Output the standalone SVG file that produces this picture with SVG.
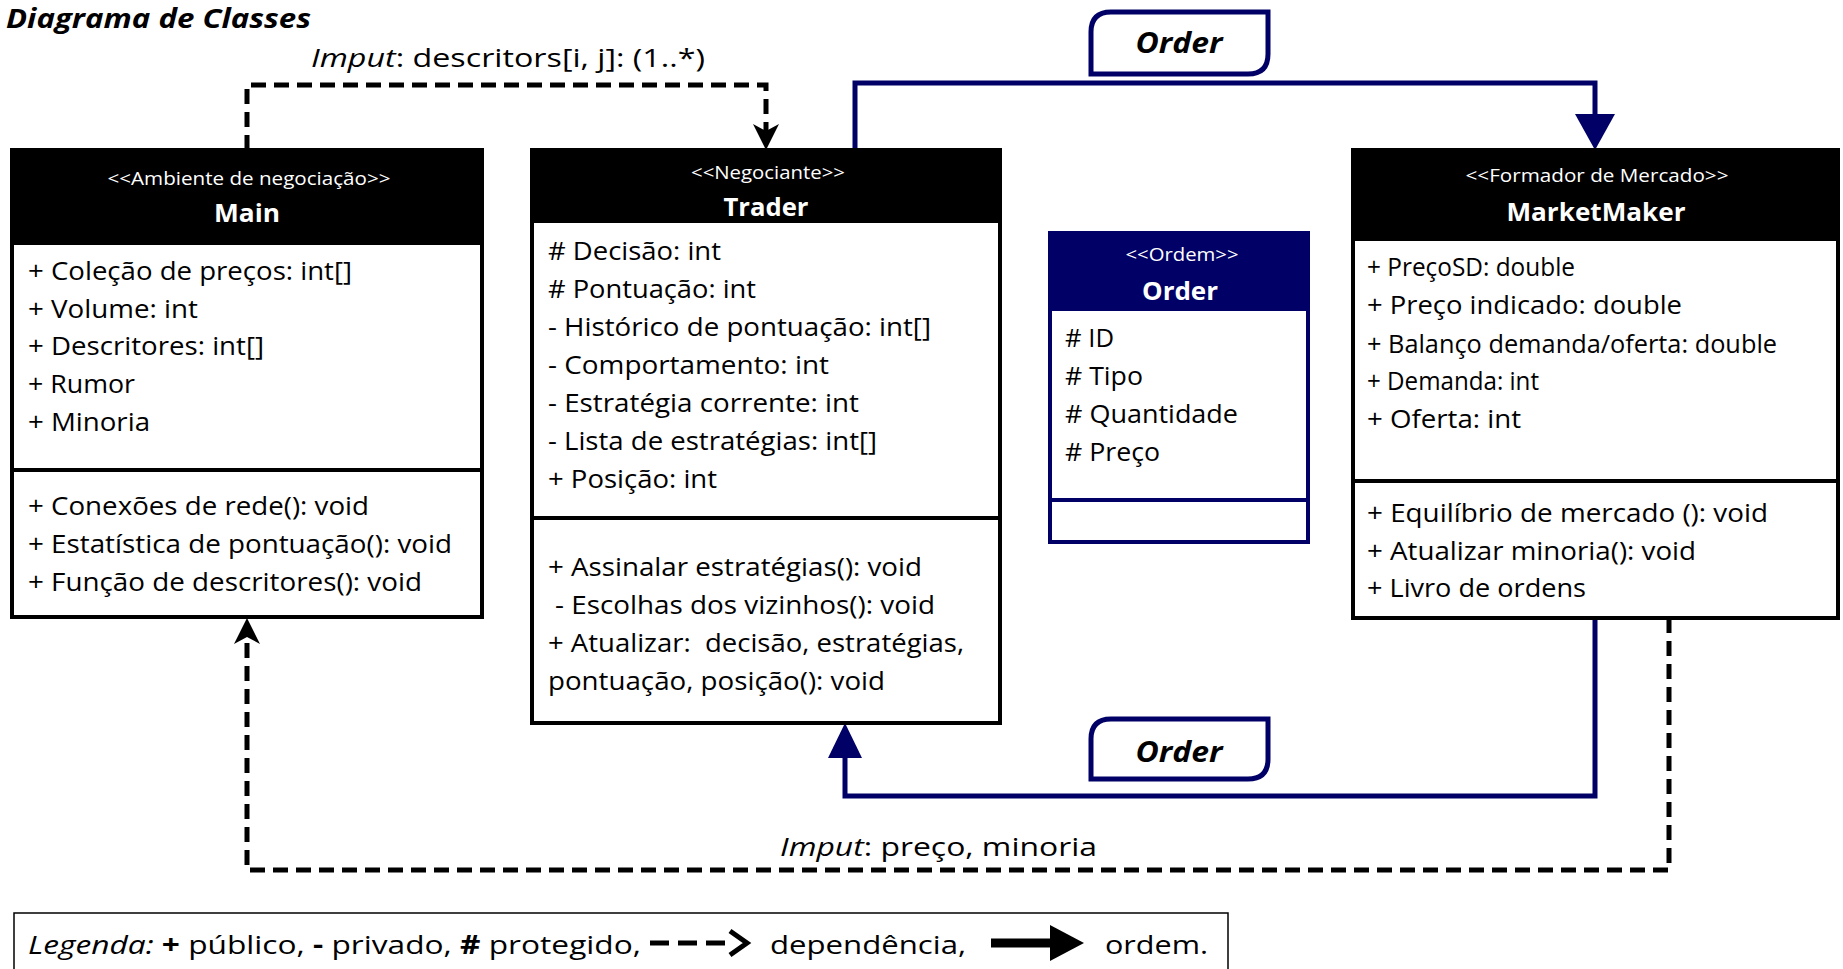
<svg xmlns="http://www.w3.org/2000/svg" width="1843" height="969" viewBox="0 0 1843 969">
<style>
text{font-family:"Open Sans","Liberation Sans",sans-serif;fill:#000}
.t{font-size:25px}
.st{font-size:18px;fill:#fff;text-anchor:middle}
.nm{font-size:25px;font-weight:bold;fill:#fff;text-anchor:middle}
.box{fill:#fff;stroke:#000;stroke-width:4}
.nbox{fill:#fff;stroke:#000066;stroke-width:4}
.dash{fill:none;stroke:#000;stroke-width:5;stroke-dasharray:15 8}
.navy{fill:none;stroke:#000066;stroke-width:5}
.lbl{font-size:29px;font-weight:bold;font-style:italic;text-anchor:middle}
.ah{fill:#000}
</style>
<text x="6" y="28" style="font-size:26px;font-weight:bold;font-style:italic" textLength="305" lengthAdjust="spacingAndGlyphs">Diagrama de Classes</text>

<g id="connectors">
<path class="dash" d="M247,150 V85 H766 V140"/>
<path class="ah" d="M766,150 L753,124 L766,131 L779,124 Z"/>
<text x="311" y="67" class="t" style="font-size:26px" textLength="394" lengthAdjust="spacingAndGlyphs"><tspan font-style="italic">Imput</tspan>: descritors[i, j]: (1..*)</text>
<path class="dash" d="M1669,618 V870 H247 V628"/>
<path class="ah" d="M247,618 L260,644 L247,637 L234,644 Z"/>
<text x="780" y="856" class="t" style="font-size:26px" textLength="317" lengthAdjust="spacingAndGlyphs"><tspan font-style="italic">Imput</tspan>: preço, minoria</text>
<path class="navy" d="M855,150 V83 H1595 V118"/>
<polygon points="1575,114 1615,114 1595,150" fill="#000066"/>
<path class="navy" d="M1595,618 V796 H845 V755"/>
<polygon points="828,758 862,758 845,723" fill="#000066"/>
<g id="order-label-top">
<path d="M1111,12 H1268 V54 Q1268,74 1248,74 H1091 V32 Q1091,12 1111,12 Z" fill="#fff" stroke="#000066" stroke-width="5"/>
<text x="1179" y="53" class="lbl" textLength="87" lengthAdjust="spacingAndGlyphs">Order</text>
</g>
<g id="order-label-bottom">
<path d="M1111,719 H1268 V759 Q1268,779 1248,779 H1091 V739 Q1091,719 1111,719 Z" fill="#fff" stroke="#000066" stroke-width="5"/>
<text x="1179" y="762" class="lbl" textLength="87" lengthAdjust="spacingAndGlyphs">Order</text>
</g>
</g>

<g id="main">
<rect class="box" x="12" y="150" width="470" height="467"/>
<rect x="12" y="150" width="470" height="95" fill="#000"/>
<line x1="12" y1="470" x2="482" y2="470" stroke="#000" stroke-width="4"/>
<text x="249" y="185" class="st" textLength="283" lengthAdjust="spacingAndGlyphs">&lt;&lt;Ambiente de negociação&gt;&gt;</text>
<text x="247" y="222" class="nm" textLength="66" lengthAdjust="spacingAndGlyphs">Main</text>
<text class="t" x="28" y="280" textLength="324" lengthAdjust="spacingAndGlyphs">+ Coleção de preços: int[]</text>
<text class="t" x="28" y="318" textLength="170" lengthAdjust="spacingAndGlyphs">+ Volume: int</text>
<text class="t" x="28" y="355" textLength="236" lengthAdjust="spacingAndGlyphs">+ Descritores: int[]</text>
<text class="t" x="28" y="393" textLength="107" lengthAdjust="spacingAndGlyphs">+ Rumor</text>
<text class="t" x="28" y="431" textLength="122" lengthAdjust="spacingAndGlyphs">+ Minoria</text>
<text class="t" x="28" y="515" textLength="341" lengthAdjust="spacingAndGlyphs">+ Conexões de rede(): void</text>
<text class="t" x="28" y="553" textLength="424" lengthAdjust="spacingAndGlyphs">+ Estatística de pontuação(): void</text>
<text class="t" x="28" y="591" textLength="394" lengthAdjust="spacingAndGlyphs">+ Função de descritores(): void</text>
</g>

<g id="trader">
<rect class="box" x="532" y="150" width="468" height="573"/>
<rect x="532" y="150" width="468" height="73" fill="#000"/>
<line x1="532" y1="518" x2="1000" y2="518" stroke="#000" stroke-width="4"/>
<text x="768" y="179" class="st" textLength="154" lengthAdjust="spacingAndGlyphs">&lt;&lt;Negociante&gt;&gt;</text>
<text x="766" y="216" class="nm" textLength="85" lengthAdjust="spacingAndGlyphs">Trader</text>
<text class="t" x="548" y="260" textLength="173" lengthAdjust="spacingAndGlyphs"># Decisão: int</text>
<text class="t" x="548" y="298" textLength="208" lengthAdjust="spacingAndGlyphs"># Pontuação: int</text>
<text class="t" x="548" y="336" textLength="383" lengthAdjust="spacingAndGlyphs">- Histórico de pontuação: int[]</text>
<text class="t" x="548" y="374" textLength="281" lengthAdjust="spacingAndGlyphs">- Comportamento: int</text>
<text class="t" x="548" y="412" textLength="311" lengthAdjust="spacingAndGlyphs">- Estratégia corrente: int</text>
<text class="t" x="548" y="450" textLength="329" lengthAdjust="spacingAndGlyphs">- Lista de estratégias: int[]</text>
<text class="t" x="548" y="488" textLength="169" lengthAdjust="spacingAndGlyphs">+ Posição: int</text>
<text class="t" x="548" y="576" textLength="374" lengthAdjust="spacingAndGlyphs">+ Assinalar estratégias(): void</text>
<text class="t" x="555" y="614" textLength="380" lengthAdjust="spacingAndGlyphs">- Escolhas dos vizinhos(): void</text>
<text class="t" x="548" y="652" textLength="416" lengthAdjust="spacingAndGlyphs" xml:space="preserve">+ Atualizar:  decisão, estratégias,</text>
<text class="t" x="548" y="690" textLength="337" lengthAdjust="spacingAndGlyphs">pontuação, posição(): void</text>
</g>

<g id="order">
<rect class="nbox" x="1050" y="233" width="258" height="309"/>
<rect x="1050" y="233" width="258" height="78" fill="#000066"/>
<line x1="1050" y1="500" x2="1308" y2="500" stroke="#000066" stroke-width="4"/>
<text x="1182" y="261" class="st" textLength="113" lengthAdjust="spacingAndGlyphs">&lt;&lt;Ordem&gt;&gt;</text>
<text x="1180" y="300" class="nm" textLength="76" lengthAdjust="spacingAndGlyphs">Order</text>
<text class="t" x="1065" y="347" textLength="49" lengthAdjust="spacingAndGlyphs"># ID</text>
<text class="t" x="1065" y="385" textLength="78" lengthAdjust="spacingAndGlyphs"># Tipo</text>
<text class="t" x="1065" y="423" textLength="173" lengthAdjust="spacingAndGlyphs"># Quantidade</text>
<text class="t" x="1065" y="461" textLength="95" lengthAdjust="spacingAndGlyphs"># Preço</text>
</g>

<g id="marketmaker">
<rect class="box" x="1353" y="150" width="485" height="468"/>
<rect x="1353" y="150" width="485" height="91" fill="#000"/>
<line x1="1353" y1="481" x2="1838" y2="481" stroke="#000" stroke-width="4"/>
<text x="1597" y="182" class="st" textLength="263" lengthAdjust="spacingAndGlyphs">&lt;&lt;Formador de Mercado&gt;&gt;</text>
<text x="1596" y="221" class="nm" textLength="179" lengthAdjust="spacingAndGlyphs">MarketMaker</text>
<text class="t" x="1367" y="276" textLength="208" lengthAdjust="spacingAndGlyphs">+ PreçoSD: double</text>
<text class="t" x="1367" y="314" textLength="315" lengthAdjust="spacingAndGlyphs">+ Preço indicado: double</text>
<text class="t" x="1367" y="353" textLength="410" lengthAdjust="spacingAndGlyphs">+ Balanço demanda/oferta: double</text>
<text class="t" x="1367" y="390" textLength="172" lengthAdjust="spacingAndGlyphs">+ Demanda: int</text>
<text class="t" x="1367" y="428" textLength="154" lengthAdjust="spacingAndGlyphs">+ Oferta: int</text>
<text class="t" x="1367" y="522" textLength="401" lengthAdjust="spacingAndGlyphs">+ Equilíbrio de mercado (): void</text>
<text class="t" x="1367" y="560" textLength="329" lengthAdjust="spacingAndGlyphs">+ Atualizar minoria(): void</text>
<text class="t" x="1367" y="597" textLength="219" lengthAdjust="spacingAndGlyphs">+ Livro de ordens</text>
</g>

<g id="legend">
<rect x="14" y="913" width="1214" height="70" fill="#fff" stroke="#000" stroke-width="1.5"/>
<text x="28" y="954" class="t" style="font-size:26px" textLength="613" lengthAdjust="spacingAndGlyphs"><tspan font-style="italic">Legenda:</tspan> <tspan font-weight="bold">+</tspan> público, <tspan font-weight="bold">-</tspan> privado, <tspan font-weight="bold">#</tspan> protegido,</text>
<line x1="650" y1="943" x2="727" y2="943" stroke="#000" stroke-width="5" stroke-dasharray="19 9"/>
<polyline points="730,931 747,943 730,955" fill="none" stroke="#000" stroke-width="5"/>
<text x="770" y="954" class="t" style="font-size:26px" textLength="196" lengthAdjust="spacingAndGlyphs">dependência,</text>
<line x1="991" y1="943" x2="1054" y2="943" stroke="#000" stroke-width="9"/>
<polygon points="1050,925 1084,943 1050,961" fill="#000"/>
<text x="1105" y="954" class="t" style="font-size:26px" textLength="103" lengthAdjust="spacingAndGlyphs">ordem.</text>
</g>
</svg>
